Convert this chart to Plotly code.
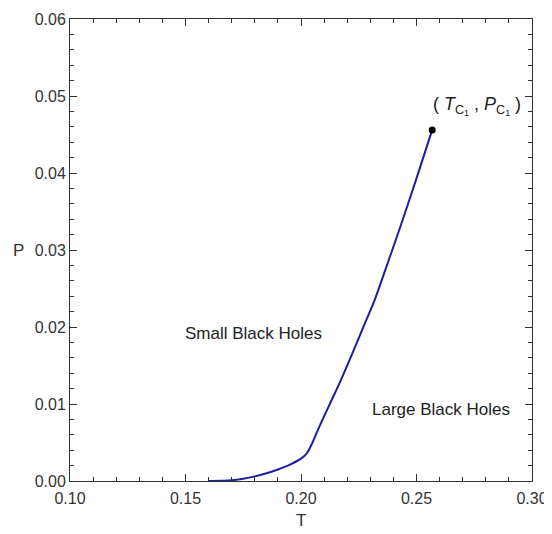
import plotly.graph_objects as go

# Data
T = [0.160, 0.165, 0.170, 0.175, 0.180, 0.185, 0.190, 0.195, 0.200, 0.2025,
     0.205, 0.208, 0.212, 0.217, 0.222, 0.227, 0.232, 0.238, 0.244, 0.250, 0.2568]
P = [0.0000, 0.00003, 0.0001, 0.0003, 0.0006, 0.0010, 0.0015, 0.0021, 0.0029, 0.0036,
     0.0050, 0.0071, 0.0097, 0.0129, 0.0164, 0.0200, 0.0236, 0.0287, 0.0339, 0.0393, 0.0456]
crit_T = [0.2568]
crit_P = [0.0456]

x_ticks = [0.10, 0.15, 0.20, 0.25, 0.30]
y_ticks = [0.00, 0.01, 0.02, 0.03, 0.04, 0.05, 0.06]

FONT = "Liberation Sans, Arial, sans-serif"

fig = go.Figure()
fig.add_trace(go.Scatter(x=T, y=P, mode="lines", line_shape="spline",
                         line=dict(color="#1e1e9c", width=2, smoothing=0.6), hoverinfo="skip"))
fig.add_trace(go.Scatter(x=crit_T, y=crit_P, mode="markers",
                         marker=dict(color="black", size=7), hoverinfo="skip"))

axis_common = dict(showgrid=False, zeroline=False, showline=True, linecolor="#333333",
                   linewidth=1, mirror="allticks", ticks="inside", ticklen=7,
                   tickcolor="#333333", automargin=False, ticklabeloverflow="allow",
                   tickfont=dict(family=FONT, size=16, color="#333333"))

fig.update_xaxes(range=[0.10, 0.30], tickvals=x_ticks,
                 ticktext=[f"{v:.2f}" for v in x_ticks], ticklabelstandoff=3,
                 minor=dict(dtick=0.01, ticks="inside", ticklen=4, tickcolor="#333333"),
                 **axis_common)
fig.update_yaxes(range=[0.0, 0.06], tickvals=y_ticks,
                 ticktext=[f"{v:.2f}" for v in y_ticks],
                 minor=dict(dtick=0.002, ticks="inside", ticklen=4, tickcolor="#333333"),
                 **axis_common)

fig.add_annotation(x=0.1795, y=0.0192, text="Small Black Holes", showarrow=False,
                   font=dict(family=FONT, size=17, color="#222222"))
fig.add_annotation(x=0.2605, y=0.0093, text="Large Black Holes", showarrow=False,
                   font=dict(family=FONT, size=17, color="#222222"))
fig.add_annotation(x=0.2562, y=0.0487, xanchor="left",
                   text="( <i>T</i><sub>C<sub>1</sub></sub> , <i>P</i><sub>C<sub>1</sub></sub> )",
                   showarrow=False, font=dict(family=FONT, size=18, color="#222222"))

fig.add_annotation(xref="paper", yref="y", x=0, xshift=-44, xanchor="right",
                   y=0.03, text="P",
                   showarrow=False, font=dict(family=FONT, size=17, color="#333333"))
fig.add_annotation(xref="x", yref="paper", x=0.20, y=0, yshift=-39, yanchor="middle",
                   text="T",
                   showarrow=False, font=dict(family=FONT, size=17, color="#333333"))

# The page body adds an 8px margin, so the figure is 8px smaller than the window
fig.update_layout(width=544, height=526, showlegend=False,
                  plot_bgcolor="white", paper_bgcolor="white",
                  margin=dict(l=62, r=20, t=11, b=53))

fig.write_html("out.html")
